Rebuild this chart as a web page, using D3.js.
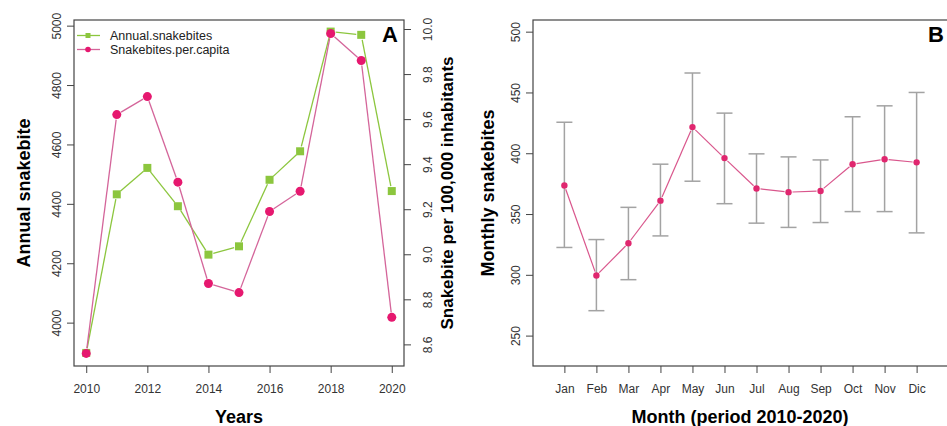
<!DOCTYPE html>
<html>
<head>
<meta charset="utf-8">
<script src="https://cdn.jsdelivr.net/npm/d3@7"></script>
<style>
  body { margin: 0; background: #fff; }
  svg { display: block; font-family: "Liberation Sans", Arial, sans-serif; }
</style>
</head>
<body>
<div id="chart"></div>
<script>
// Panel A data
const years = [2010, 2011, 2012, 2013, 2014, 2015, 2016, 2017, 2018, 2019, 2020];
const annualSnakebites = [3898, 4432, 4521, 4392, 4229, 4257, 4481, 4577, 4980, 4969, 4443];
const perCapita = [8.56, 9.62, 9.70, 9.32, 8.87, 8.83, 9.19, 9.28, 9.98, 9.86, 8.72];
const yearTicks = [2010, 2012, 2014, 2016, 2018, 2020];
const leftTicks = [4000, 4200, 4400, 4600, 4800, 5000];
const rightTicks = [8.6, 8.8, 9.0, 9.2, 9.4, 9.6, 9.8, 10.0];

// Panel B data
const months = ['Jan', 'Feb', 'Mar', 'Apr', 'May', 'Jun', 'Jul', 'Aug', 'Sep', 'Oct', 'Nov', 'Dic'];
const monthMean = [373.5, 299.5, 326, 361, 421.5, 396, 371, 368, 369, 391, 395, 392.5];
const monthUpper = [425.5, 329, 355.5, 391, 466, 433, 399.5, 397, 394.5, 430, 439, 450];
const monthLower = [322.5, 270.5, 296, 332, 377, 358.5, 342.5, 339, 343, 352, 352, 334.5];
const bTicks = [250, 300, 350, 400, 450, 500];

const GREEN = '#8cc63e';
const PINK = '#e6186f';
const PINK_LINE = '#d4659a';
const AXIS = '#444';
const LABEL = '#333';

const svg = d3.select('#chart').append('svg')
    .attr('width', 947)
    .attr('height', 426);

// draw a line with small gaps around the points (like R type="b")
function gappedSegments(g, pts, gap, color, width) {
    for (let i = 0; i < pts.length - 1; i++) {
        const [x1, y1] = pts[i], [x2, y2] = pts[i + 1];
        const len = Math.hypot(x2 - x1, y2 - y1);
        if (len <= 2 * gap) continue;
        const ux = (x2 - x1) / len, uy = (y2 - y1) / len;
        g.append('line')
            .attr('x1', x1 + ux * gap).attr('y1', y1 + uy * gap)
            .attr('x2', x2 - ux * gap).attr('y2', y2 - uy * gap)
            .attr('stroke', color)
            .attr('stroke-width', width);
    }
}

function styleAxis(sel) {
    sel.select('.domain').remove();
    sel.selectAll('.tick line').attr('stroke', AXIS).attr('stroke-width', 1);
    sel.selectAll('.tick text')
        .attr('fill', LABEL)
        .style('font-size', '12px')
        .style('font-family', '"Liberation Sans", Arial, sans-serif');
}

// ---------- Panel A ----------
const A = { left: 74, right: 404, top: 20, bottom: 366 };

const xA = d3.scaleLinear().domain([2009.6, 2020.4]).range([A.left, A.right]);
const yA = d3.scaleLinear().domain([3854, 5019]).range([A.bottom, A.top]);
const yA2 = d3.scaleLinear().domain([8.504, 10.04]).range([A.bottom, A.top]);

const gA = svg.append('g');

gA.append('g')
    .attr('transform', `translate(0,${A.bottom})`)
    .call(d3.axisBottom(xA).tickValues(yearTicks).tickFormat(d3.format('d')).tickSize(7).tickPadding(11))
    .call(styleAxis);

gA.append('g')
    .attr('transform', `translate(${A.left},0)`)
    .call(d3.axisLeft(yA).tickValues(leftTicks).tickFormat(d3.format('d')).tickSize(7).tickPadding(0))
    .call(styleAxis)
    .call(s => s.selectAll('.tick text')
        .attr('transform', 'rotate(-90)')
        .attr('x', 0).attr('y', -17)
        .attr('dy', '0.35em')
        .style('text-anchor', 'middle'));

gA.append('g')
    .attr('transform', `translate(${A.right},0)`)
    .call(d3.axisRight(yA2).tickValues(rightTicks).tickFormat(d3.format('.1f')).tickSize(7).tickPadding(0))
    .call(styleAxis)
    .call(s => s.selectAll('.tick text')
        .attr('transform', 'rotate(-90)')
        .attr('x', 0).attr('y', 24)
        .attr('dy', '0.35em')
        .style('text-anchor', 'middle'));

gA.append('rect')
    .attr('x', A.left).attr('y', A.top)
    .attr('width', A.right - A.left).attr('height', A.bottom - A.top)
    .attr('fill', 'none').attr('stroke', AXIS).attr('stroke-width', 1.2);

const greenPts = years.map((y, i) => [xA(y), yA(annualSnakebites[i])]);
const pinkPts = years.map((y, i) => [xA(y), yA2(perCapita[i])]);

gappedSegments(gA, greenPts, 5, GREEN, 1.3);
gA.selectAll('.sq').data(greenPts).enter().append('rect')
    .attr('x', d => d[0] - 4).attr('y', d => d[1] - 4)
    .attr('width', 8).attr('height', 8)
    .attr('fill', GREEN);

gappedSegments(gA, pinkPts, 5, PINK_LINE, 1.3);
gA.selectAll('.dot').data(pinkPts).enter().append('circle')
    .attr('cx', d => d[0]).attr('cy', d => d[1])
    .attr('r', 4.5)
    .attr('fill', PINK);

// legend
const legend = gA.append('g');
const legendItems = [
    { label: 'Annual.snakebites', color: GREEN, line: GREEN, shape: 'square' },
    { label: 'Snakebites.per.capita', color: PINK, line: PINK_LINE, shape: 'circle' }
];
legendItems.forEach((item, i) => {
    const y = 35.5 + i * 14;
    legend.append('line')
        .attr('x1', 77).attr('x2', 100).attr('y1', y).attr('y2', y)
        .attr('stroke', item.line).attr('stroke-width', 1.3);
    if (item.shape === 'square') {
        legend.append('rect').attr('x', 85.5).attr('y', y - 2.5).attr('width', 5).attr('height', 5).attr('fill', item.color);
    } else {
        legend.append('circle').attr('cx', 88).attr('cy', y).attr('r', 2.8).attr('fill', item.color);
    }
    legend.append('text')
        .attr('x', 110).attr('y', y)
        .attr('dy', '0.35em')
        .attr('fill', '#222')
        .style('font-size', '12.5px')
        .text(item.label);
});

gA.append('text')
    .attr('x', 398).attr('y', 34).attr('dy', '0.35em')
    .attr('text-anchor', 'end')
    .style('font-size', '22px').style('font-weight', 'bold')
    .text('A');

gA.append('text')
    .attr('x', (A.left + A.right) / 2).attr('y', 423)
    .attr('text-anchor', 'middle')
    .style('font-size', '18px').style('font-weight', 'bold')
    .text('Years');

gA.append('text')
    .attr('transform', `translate(24,${(A.top + A.bottom) / 2}) rotate(-90)`)
    .attr('dy', '0.35em')
    .attr('text-anchor', 'middle')
    .style('font-size', '18px').style('font-weight', 'bold')
    .text('Annual snakebite');

gA.append('text')
    .attr('transform', `translate(447,${(A.top + A.bottom) / 2}) rotate(-90)`)
    .attr('dy', '0.35em')
    .attr('text-anchor', 'middle')
    .style('font-size', '17px').style('font-weight', 'bold')
    .text('Snakebite per 100,000 inhabitants');

// ---------- Panel B ----------
const B = { left: 533, right: 948, top: 20, bottom: 366 };

const xB = d3.scaleLinear().domain([0.02, 12.98]).range([B.left, B.right]);
const yB = d3.scaleLinear().domain([225, 509.6]).range([B.bottom, B.top]);

const gB = svg.append('g');

gB.append('g')
    .attr('transform', `translate(0,${B.bottom})`)
    .call(d3.axisBottom(xB).tickValues(d3.range(1, 13)).tickFormat(d => months[d - 1]).tickSize(7).tickPadding(11))
    .call(styleAxis);

gB.append('g')
    .attr('transform', `translate(${B.left},0)`)
    .call(d3.axisLeft(yB).tickValues(bTicks).tickFormat(d3.format('d')).tickSize(7).tickPadding(0))
    .call(styleAxis)
    .call(s => s.selectAll('.tick text')
        .attr('transform', 'rotate(-90)')
        .attr('x', 0).attr('y', -17)
        .attr('dy', '0.35em')
        .style('text-anchor', 'middle'));

gB.append('rect')
    .attr('x', B.left).attr('y', B.top)
    .attr('width', B.right - B.left).attr('height', B.bottom - B.top)
    .attr('fill', 'none').attr('stroke', AXIS).attr('stroke-width', 1.2);

// error bars
const ERR = '#a3a3a3';
months.forEach((m, i) => {
    const x = xB(i + 1);
    gB.append('line')
        .attr('x1', x).attr('x2', x)
        .attr('y1', yB(monthLower[i])).attr('y2', yB(monthUpper[i]))
        .attr('stroke', ERR).attr('stroke-width', 1.5);
    [monthLower[i], monthUpper[i]].forEach(v => {
        gB.append('line')
            .attr('x1', x - 8).attr('x2', x + 8)
            .attr('y1', yB(v)).attr('y2', yB(v))
            .attr('stroke', ERR).attr('stroke-width', 1.5);
    });
});

const bPts = months.map((m, i) => [xB(i + 1), yB(monthMean[i])]);
gappedSegments(gB, bPts, 4, '#d9568c', 1.2);
gB.selectAll('.dot').data(bPts).enter().append('circle')
    .attr('cx', d => d[0]).attr('cy', d => d[1])
    .attr('r', 3.2)
    .attr('fill', '#e0276f');

gB.append('text')
    .attr('x', 944).attr('y', 34).attr('dy', '0.35em')
    .attr('text-anchor', 'end')
    .style('font-size', '22px').style('font-weight', 'bold')
    .text('B');

gB.append('text')
    .attr('x', 740).attr('y', 423)
    .attr('text-anchor', 'middle')
    .style('font-size', '18px').style('font-weight', 'bold')
    .text('Month (period 2010-2020)');

gB.append('text')
    .attr('transform', `translate(488,${(B.top + B.bottom) / 2}) rotate(-90)`)
    .attr('dy', '0.35em')
    .attr('text-anchor', 'middle')
    .style('font-size', '18px').style('font-weight', 'bold')
    .text('Monthly snakebites');
</script>
</body>
</html>
